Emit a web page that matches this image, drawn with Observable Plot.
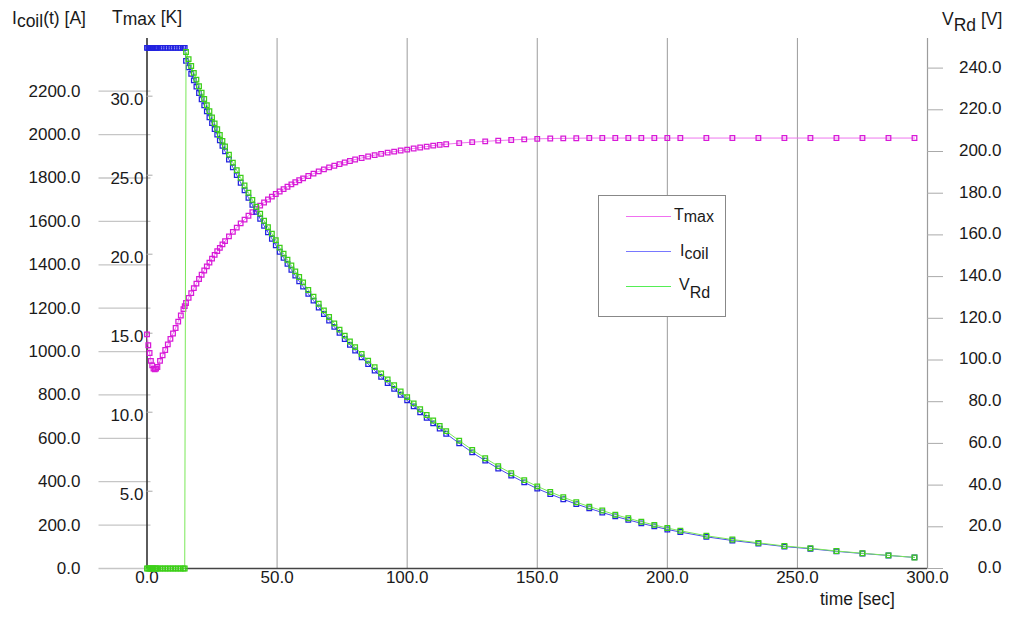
<!DOCTYPE html>
<html><head><meta charset="utf-8">
<script src="https://cdn.jsdelivr.net/npm/d3@7"></script>
<script src="https://cdn.jsdelivr.net/npm/@observablehq/plot@0.6"></script>
<style>
body{margin:0;background:#fff;font-family:"Liberation Sans",Arial,sans-serif;color:#1a1a1a}
#wrap{position:relative;width:1009px;height:617px;overflow:hidden;background:#fff}
#wrap svg{position:absolute;left:0;top:0}
.lab{position:absolute;font-size:17.5px;white-space:nowrap;line-height:1;color:#1a1a1a}
.lab sub{font-size:1em;line-height:0;position:relative;vertical-align:baseline}
.leg{position:absolute;font-size:16px;white-space:nowrap;line-height:1;color:#1a1a1a}
.leg sub{font-size:1em;line-height:0;position:relative;vertical-align:baseline}
#legbox{position:absolute;left:598px;top:195px;width:126px;height:120px;border:1px solid #888;background:#fff}
.legline{position:absolute;height:0;width:45px;left:626px}
</style></head>
<body><div id="wrap"></div>
<script>
// ---- data ----
const time = [0,0.5,1,1.5,2,2.5,3,3.5,4,5,6,7,8,9,10,11,12,13,14,14.5,
  15,16,17,18,19,20,21,22,23,24,25,26,27,28,29,30,
  31.5,33,34.5,36,37.5,39,40.5,42,43.5,45,46.5,48,49.5,51,52.5,54,55.5,57,58.5,60,
  62,64,66,68,70,72,74,76,78,80,
  82.5,85,87.5,90,92.5,95,97.5,100,102.5,105,107.5,110,112.5,115,
  120,125,130,135,140,145,150,155,160,165,170,175,180,185,190,195,200,205,
  215,225,235,245,255,265,275,285,295];
const icoil = [2400,2400,2400,2400,2400,2400,2400,2400,2400,2400,2400,2400,2400,2400,2400,2400,2400,2400,2400,2400,
  2340,2310,2280,2250,2221,2192,2163,2135,2107,2080,2053,2026,2000,1974,1948,1923,
  1885,1849,1813,1778,1743,1709,1676,1644,1612,1580,1550,1520,1490,1460,1432,1404,1377,1350,1324,1299,
  1266,1235,1203,1173,1143,1114,1086,1058,1031,1005,
  973,942,912,883,855,828,801,775,747,720,694,669,645,621,
  577,535,497,461,428,397,368,343,319,297,277,258,240,224,208,194,180,168,
  146,129,115,101,91,79,69,60,51];
const tmax = [14.93,14.24,13.75,13.25,12.96,12.76,12.71,12.76,12.86,
  13.25,13.60,13.94,14.29,14.64,14.98,15.33,15.73,16.12,16.52,16.71,
  16.91,17.24,17.54,17.85,18.14,18.43,18.70,18.97,19.23,19.47,19.72,19.96,20.19,20.40,20.62,20.83,
  21.13,21.41,21.68,21.95,22.19,22.43,22.66,22.87,23.07,23.27,23.46,23.64,23.81,23.97,24.12,24.27,24.42,24.55,24.68,24.80,
  24.95,25.10,25.24,25.37,25.49,25.60,25.70,25.80,25.90,25.99,
  26.09,26.18,26.27,26.35,26.43,26.49,26.56,26.62,26.69,26.75,26.81,26.87,26.92,26.96,
  27.03,27.09,27.14,27.19,27.23,27.27,27.30,27.32,27.33,27.34,27.35,27.35,27.35,27.35,27.35,27.35,27.35,27.35,
  27.35,27.35,27.35,27.35,27.35,27.35,27.35,27.35,27.35];
const vrd = [0,0,0,0,0,0,0,0,0,0,0,0,0,0,0,0,0,0,0,0,
  247.7,244.3,241.0,237.7,234.5,231.3,228.2,225.2,222.2,219.3,216.4,213.5,210.7,207.9,205.1,202.4,
  198.5,194.7,191.0,187.4,183.7,180.2,176.8,173.5,170.2,166.8,163.7,160.6,157.5,153.9,151.0,148.1,145.3,142.5,139.8,137.2,
  133.6,130.4,127.0,123.8,120.6,117.6,114.6,111.7,108.9,106.2,
  102.9,99.7,96.6,93.6,90.7,87.9,84.9,82.2,79.2,76.4,73.6,71.0,68.4,65.9,
  61.3,56.9,52.9,49.1,45.7,42.4,39.4,36.7,34.2,31.8,29.7,27.8,25.8,24.1,22.4,20.9,19.4,18.1,
  15.7,13.9,12.3,10.8,9.7,8.4,7.3,6.3,5.3];
const xTicks = [0,50,100,150,200,250,300];
const xGrid = [50,100,150,200,250];
const iTicks = [0,200,400,600,800,1000,1200,1400,1600,1800,2000,2200];
const tTicks = [5,10,15,20,25,30];
const vTicks = [0,20,40,60,80,100,120,140,160,180,200,220,240];

// ---- layout ----
const W = 1009, H = 617, mL = 146.5, mR = 82, mT = 38, mB = 49;
const px2t = px => px * 300 / (W - mL - mR);
const rows = time.map((t, i) => ({t, I: icoil[i], T: tmax[i], V: vrd[i]}));
const fmt = d3.format(".1f");
const font = '"Liberation Sans", Arial, sans-serif';
const base = {
  width: W, height: H, marginLeft: mL, marginRight: mR, marginTop: mT, marginBottom: mB,
  x: {domain: [0, 300], axis: null},
  style: {background: "transparent", fontFamily: font, fontSize: "17px", color: "#1a1a1a", overflow: "visible"}
};
const yI = {domain: [0, 2443], axis: null};
const yT = {domain: [0.11, 33.65], axis: null};
const yV = {domain: [0, 254.2], axis: null};

const pGrid = Plot.plot({...base, y: yI, marks: [
  Plot.ruleX(xGrid, {stroke: "#9c9c9c", strokeWidth: 1}),
  Plot.ruleY(iTicks, {x1: -px2t(48), x2: px2t(4), stroke: "#c6c6c6", strokeWidth: 1.3}),
  Plot.text(iTicks, {y: d => d, text: d => fmt(d), frameAnchor: "left", dx: -66.5, textAnchor: "end", fill: "#1a1a1a"}),
  Plot.text(xTicks, {x: d => d, text: d => fmt(d), frameAnchor: "bottom", dy: 14, fill: "#1a1a1a"}),
  Plot.ruleX([0], {stroke: "#333", strokeWidth: 1.6}),
  Plot.ruleY([0], {stroke: "#444", strokeWidth: 1.6})
]});

const pT = Plot.plot({...base, y: yT, marks: [
  Plot.ruleY(tTicks, {x1: 0, x2: px2t(6), stroke: "#aaa", strokeWidth: 1}),
  Plot.text(tTicks, {y: d => d, text: d => fmt(d), frameAnchor: "left", dx: -3.5, dy: 3, textAnchor: "end", fill: "#1a1a1a"}),
  Plot.line(rows, {x: "t", y: "T", stroke: "#ee77ee", strokeWidth: 1}),
  Plot.dot(rows, {x: "t", y: "T", symbol: "square", r: 2.6, stroke: "#d81ad8", fill: "none", strokeWidth: 1.25})
]});

const pI = Plot.plot({...base, y: yI, marks: [
  Plot.line(rows, {x: "t", y: "I", stroke: "#4848ee", strokeWidth: 1}),
  Plot.dot(rows, {x: "t", y: "I", symbol: "square", r: 2.6, stroke: "#2222e0", fill: "none", strokeWidth: 1.25})
]});

const pV = Plot.plot({...base, y: yV, marks: [
  Plot.ruleX([300], {stroke: "#9c9c9c", strokeWidth: 1.2}),
  Plot.ruleY(vTicks, {x1: 300, x2: 300 + px2t(16), stroke: "#aaa", strokeWidth: 1}),
  Plot.text(vTicks, {y: d => d, text: d => fmt(d), frameAnchor: "right", dx: 74, dy: -1, textAnchor: "end", fill: "#1a1a1a"}),
  Plot.line(rows, {x: "t", y: "V", stroke: "#7ae858", strokeWidth: 1}),
  Plot.dot(rows, {x: "t", y: "V", symbol: "square", r: 2.6, stroke: "#3cd018", fill: "none", strokeWidth: 1.25})
]});

const wrap = document.getElementById("wrap");
[pGrid, pT, pI, pV].forEach(p => wrap.appendChild(p));

// ---- axis titles and legend (real text) ----
const html = `
<div class="lab" style="left:12px;top:10px">I<sub style="top:3px">coil</sub>(t) [A]</div>
<div class="lab" style="left:112px;top:9px">T<sub style="top:2px">max</sub> [K]</div>
<div class="lab" style="left:942px;top:11px">V<sub style="top:6px">Rd</sub> [V]</div>
<div class="lab" style="left:820px;top:591px">time [sec]</div>
<div id="legbox"></div>
<div class="legline" style="top:216px;border-top:1.5px solid #f070f0"></div>
<div class="legline" style="top:251px;border-top:1.5px solid #7878ff"></div>
<div class="legline" style="top:286px;border-top:1.5px solid #55ee55"></div>
<div class="leg" style="left:674px;top:207px">T<sub style="top:2px">max</sub></div>
<div class="leg" style="left:680px;top:242.5px">I<sub style="top:3px">coil</sub></div>
<div class="leg" style="left:679px;top:276.5px">V<sub style="top:8px">Rd</sub></div>`;
wrap.insertAdjacentHTML("beforeend", html);
</script>
</body></html>
